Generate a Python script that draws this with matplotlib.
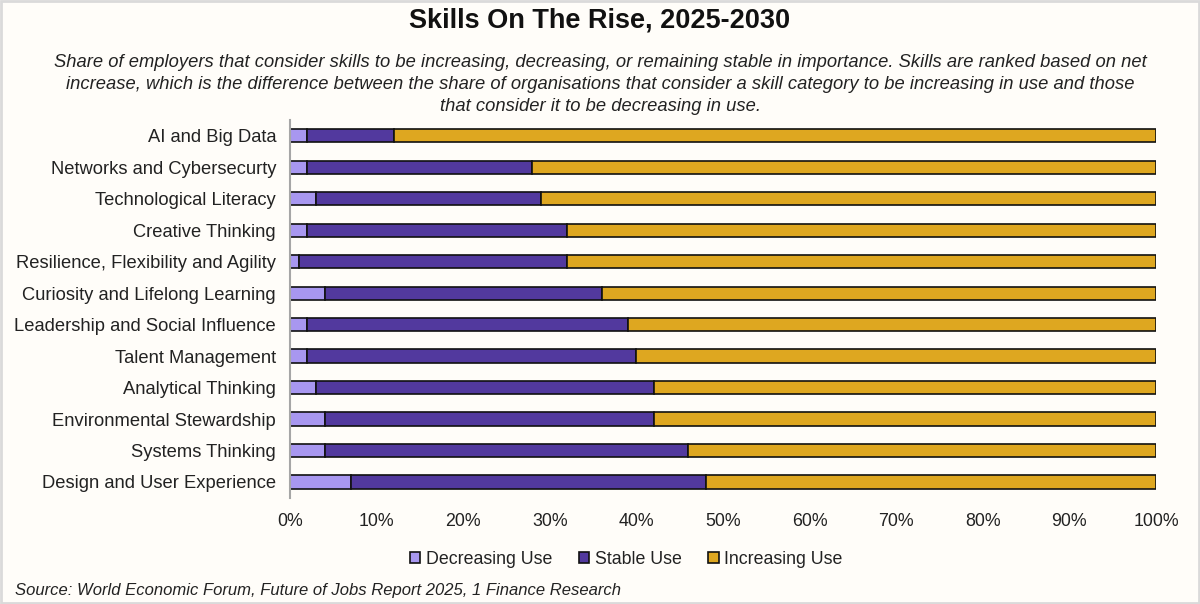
import matplotlib
matplotlib.use("Agg")
import matplotlib.pyplot as plt
from matplotlib.patches import Rectangle
import numpy as np

plt.rcParams['font.family'] = ['Liberation Sans', 'DejaVu Sans']

skills = ["AI and Big Data", "Networks and Cybersecurty", "Technological Literacy",
          "Creative Thinking", "Resilience, Flexibility and Agility",
          "Curiosity and Lifelong Learning", "Leadership and Social Influence",
          "Talent Management", "Analytical Thinking", "Environmental Stewardship",
          "Systems Thinking", "Design and User Experience"]
decreasing = [2, 2, 3, 2, 1, 4, 2, 2, 3, 4, 4, 7]
stable = [10, 26, 26, 30, 31, 32, 37, 38, 39, 38, 42, 41]
increasing = [88, 72, 71, 68, 68, 64, 61, 60, 58, 58, 54, 52]
series_names = ["Decreasing Use", "Stable Use", "Increasing Use"]
colors = ["#A897F0", "#52399E", "#DEA720"]
xticks = [0, 10, 20, 30, 40, 50, 60, 70, 80, 90, 100]

bg = "#FFFDF9"
fig = plt.figure(figsize=(12, 6.04), dpi=100, facecolor=bg)
fig.patches.append(Rectangle((0.001, 0.002), 0.998, 0.996, transform=fig.transFigure,
                             fill=False, edgecolor="#DADADA", linewidth=2))
ax = fig.add_axes([290/1200, (604-497.7)/604, (1156-290)/1200, (497.7-120)/604])
ax.set_facecolor(bg)

y = np.arange(len(skills))
left = np.zeros(len(skills))
for vals, name, c in zip([decreasing, stable, increasing], series_names, colors):
    ax.barh(y, vals, left=left, height=0.42, color=c, edgecolor="#111111",
            linewidth=1.2, label=name)
    left = left + np.array(vals)

ax.set_ylim(len(skills) - 0.5, -0.5)
ax.set_xlim(0, 100)
ax.set_yticks(y)
ax.set_yticklabels(skills, fontsize=13.2, color="#222222")
ax.set_xticks(xticks)
ax.set_xticklabels([f"{t}%" for t in xticks], fontsize=12.8, color="#222222")
ax.tick_params(axis='y', length=0, pad=10)
ax.tick_params(axis='x', length=0, pad=11)
for s in ["top", "right", "bottom"]:
    ax.spines[s].set_visible(False)
ax.spines["left"].set_color("#A6A6A6")
ax.spines["left"].set_linewidth(1.5)

fig.text(0.5, 1 - 21/604, "Skills On The Rise, 2025-2030", ha="center", va="center",
         fontsize=19.5, fontweight="bold", color="#111111")
subtitle = ("Share of employers that consider skills to be increasing, decreasing, or remaining stable in importance. Skills are ranked based on net\n"
            "increase, which is the difference between the share of organisations that consider a skill category to be increasing in use and those\n"
            "that consider it to be decreasing in use.")
fig.text(0.5, 1 - 84.5/604, subtitle, ha="center", va="center", fontsize=13.2,
         style="italic", color="#222222", linespacing=1.42)

handles, labels = ax.get_legend_handles_labels()
leg = fig.legend(handles, labels, loc="center", bbox_to_anchor=(626/1200, 1 - 559/604),
                 ncol=3, frameon=False, fontsize=12.8, handlelength=0.6, handleheight=0.6,
                 handletextpad=0.3, columnspacing=1.5)
for t in leg.get_texts():
    t.set_color("#222222")

fig.text(15/1200, 1 - 591/604, "Source: World Economic Forum, Future of Jobs Report 2025, 1 Finance Research",
         ha="left", va="center", fontsize=12, style="italic", color="#222222")

fig.savefig("out.png", dpi=100, facecolor=bg)
